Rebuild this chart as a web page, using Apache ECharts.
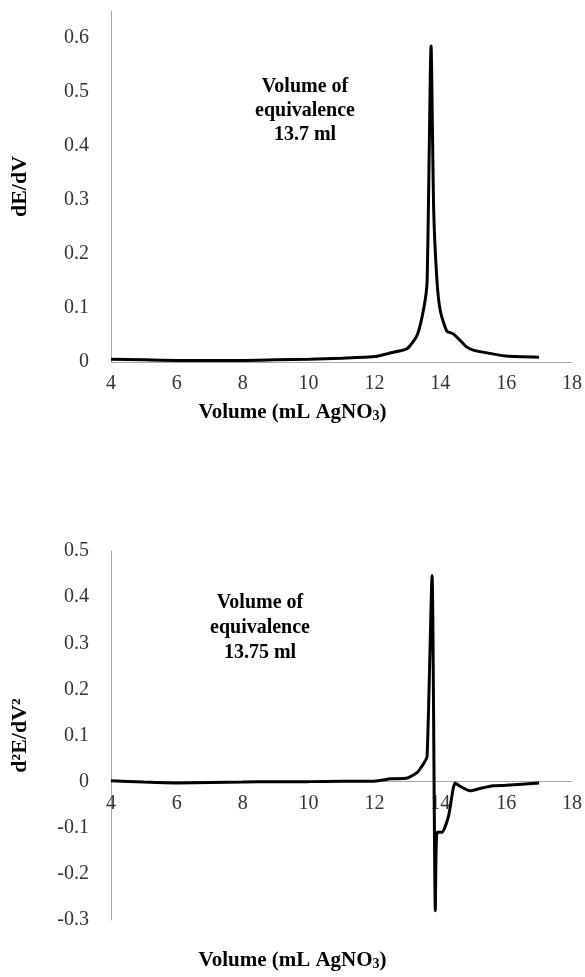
<!DOCTYPE html>
<html lang="en">
<head>
<meta charset="UTF-8">
<title>dE/dV and d2E/dV2</title>
<script src="https://cdn.jsdelivr.net/npm/echarts@6/dist/echarts.min.js"></script>
<style>
  html, body { margin: 0; padding: 0; background: #fff; }
  #main { width: 585px; height: 977px; }
</style>
</head>
<body>
<div id="main"></div>
<script>
// first derivative (top chart)
var vol1 = [4, 5, 6, 7, 8, 9, 10, 11, 12, 12.5, 13, 13.3, 13.5, 13.6, 13.72, 13.8, 13.9, 14, 14.2, 14.4, 14.6, 14.8, 15, 15.5, 16, 17];
var dEdV = [0.005, 0.004, 0.003, 0.003, 0.003, 0.004, 0.005, 0.007, 0.010, 0.017, 0.025, 0.05, 0.10, 0.15, 0.585, 0.28, 0.15, 0.095, 0.057, 0.052, 0.04, 0.028, 0.022, 0.016, 0.011, 0.009];

// second derivative (bottom chart)
var vol2 = [4, 5, 6, 7, 8, 9, 10, 11, 12, 12.5, 13, 13.3, 13.5, 13.6, 13.75, 13.85, 13.9, 14.05, 14.25, 14.45, 14.6, 14.9, 15.2, 15.6, 16, 17];
var d2EdV2 = [0.002, -0.001, -0.003, -0.002, -0.001, 0, 0, 0.001, 0.001, 0.006, 0.008, 0.02, 0.04, 0.055, 0.447, -0.28, -0.11, -0.11, -0.075, -0.003, -0.01, -0.02, -0.015, -0.009, -0.008, -0.003];

var xTicks = [4, 6, 8, 10, 12, 14, 16, 18];

var serif = '"Liberation Serif", "Times New Roman", serif';
var axisGrey = '#a6a6a6';
var labelColor = '#333';

function pairs(xs, ys) {
  return xs.map(function (x, i) { return [x, ys[i]]; });
}

// offset moves the x axis up so it sits on y = 0 (labels included)
function xAxisFor(gridIndex, offset) {
  return {
    type: 'value', gridIndex: gridIndex, position: 'bottom', offset: offset,
    min: xTicks[0], max: xTicks[xTicks.length - 1], interval: 2,
    axisLine: { onZero: false, lineStyle: { color: axisGrey, width: 1 } },
    axisTick: { show: false },
    splitLine: { show: false },
    axisLabel: { fontFamily: serif, fontSize: 20, color: labelColor, margin: 12 }
  };
}

var my_chart = echarts.init(document.getElementById('main'));

var subStyle = { font: 'bold 14px ' + serif, fill: '#000', verticalAlign: 'bottom', padding: [8, 0, 0, 0] };

var option = {
  backgroundColor: '#fff',
  animation: false,
  grid: [
    { left: 111, right: 12, top: 11, height: 351 },
    { left: 111, right: 12, top: 551, height: 369 }
  ],
  xAxis: [xAxisFor(0, 0), xAxisFor(1, -138.4)],
  yAxis: [
    {
      type: 'value', gridIndex: 0, min: 0, max: 0.65, interval: 0.1,
      axisLine: { show: true, lineStyle: { color: axisGrey, width: 1 } },
      axisTick: { show: false },
      splitLine: { show: false },
      axisLabel: { fontFamily: serif, fontSize: 20, color: labelColor, margin: 22, showMaxLabel: false },
      name: 'dE/dV', nameLocation: 'middle', nameRotate: 90, nameGap: 80,
      nameTextStyle: { fontFamily: serif, fontSize: 22, fontWeight: 'bold', color: '#000' }
    },
    {
      type: 'value', gridIndex: 1, min: -0.3, max: 0.5, interval: 0.1,
      axisLine: { show: true, onZero: false, lineStyle: { color: axisGrey, width: 1 } },
      axisTick: { show: false },
      splitLine: { show: false },
      axisLabel: { fontFamily: serif, fontSize: 20, color: labelColor, margin: 22 },
      name: 'd\u00B2E/dV\u00B2', nameLocation: 'middle', nameRotate: 90, nameGap: 80,
      nameTextStyle: { fontFamily: serif, fontSize: 22, fontWeight: 'bold', color: '#000' }
    }
  ],
  graphic: [
    {
      type: 'text', left: 'center', top: 402,
      style: { text: 'Volume (mL AgNO{sub|3})', font: 'bold 21px ' + serif, fill: '#000', rich: { sub: subStyle } }
    },
    {
      type: 'text', left: 'center', top: 950,
      style: { text: 'Volume (mL AgNO{sub|3})', font: 'bold 21px ' + serif, fill: '#000', rich: { sub: subStyle } }
    },
    {
      type: 'text', x: 305, y: 75,
      style: {
        text: 'Volume of\nequivalence\n13.7 ml',
        font: 'bold 20px ' + serif, fill: '#000',
        align: 'center', lineHeight: 24
      }
    },
    {
      type: 'text', x: 260, y: 590,
      style: {
        text: 'Volume of\nequivalence\n13.75 ml',
        font: 'bold 20px ' + serif, fill: '#000',
        align: 'center', lineHeight: 25
      }
    }
  ],
  series: [
    {
      type: 'line', xAxisIndex: 0, yAxisIndex: 0,
      data: pairs(vol1, dEdV),
      showSymbol: false, smooth: 0.2,
      lineStyle: { color: '#000', width: 3 }
    },
    {
      type: 'line', xAxisIndex: 1, yAxisIndex: 1,
      data: pairs(vol2, d2EdV2),
      showSymbol: false, smooth: 0.2,
      lineStyle: { color: '#000', width: 3 }
    }
  ]
};

my_chart.setOption(option);
</script>
</body>
</html>
